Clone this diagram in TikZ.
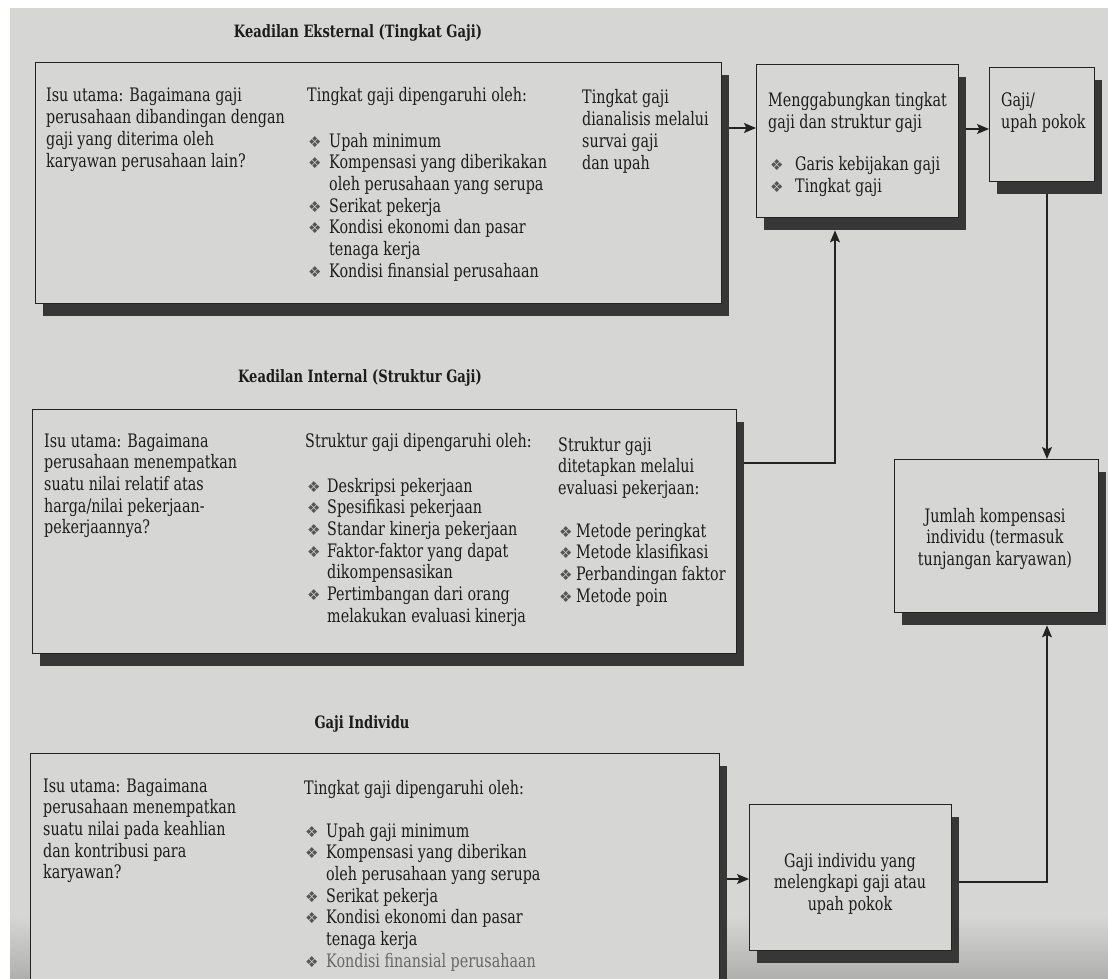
\documentclass[tikz,border=0pt]{standalone}
\usepackage{fontspec}
\setmainfont{DejaVu Serif}[FakeStretch=0.77]
\newfontfamily\bulfont{DejaVu Sans}
\usetikzlibrary{arrows.meta}

\definecolor{paper}{RGB}{214,214,212}
\definecolor{ink}{RGB}{28,28,28}
\definecolor{edge}{RGB}{35,35,35}
\definecolor{shadowc}{RGB}{55,55,55}
\definecolor{bulc}{RGB}{85,85,85}

% bullet lists: symbol box of width \bulw, continuation lines indented by \bulw
\newlength\bulw
\newcommand\bulsym{{\bulfont\fontsize{15}{15}\selectfont\color{bulc}❖}}
\newcommand\itm[1]{\makebox[\bulw][l]{\bulsym}#1}
\newcommand\cnt[1]{\hspace*{\bulw}#1}

\tikzset{
  panel/.style={draw=edge, line width=1.4pt, fill=paper, inner sep=0pt, anchor=north west},
  dropshade/.style={fill=shadowc, draw=none, inner sep=0pt, anchor=north west},
  txt/.style={inner sep=0pt, anchor=base west, text=ink, font=\fontsize{18.6}{21.7}\selectfont},
  ctxt/.style={inner sep=0pt, anchor=base, text=ink, font=\fontsize{18.6}{21.7}\selectfont},
  head/.style={inner sep=0pt, anchor=base, text=ink, font=\bfseries\fontsize{17}{20}\selectfont},
  arr/.style={draw=edge, line width=1.1pt, -{Stealth[length=12pt,width=10pt,inset=2.5pt]}},
}

% panel with its drop shadow: name, left, top, right, bottom
\newcommand\panel[5]{%
  \node[dropshade, minimum width={#4-#2}, minimum height={#5-#3}] (#1-sh) at ({#2+8},{#3+13}) {};
  \node[panel, minimum width={#4-#2}, minimum height={#5-#3}] (#1) at (#2,#3) {};
}

\begin{document}
\begin{tikzpicture}[x=1pt,y=-1pt]
\useasboundingbox (0,0) rectangle (1108,979);
\clip (0,0) rectangle (1108,979);
\fill[paper] (0,0) rectangle (1108,979);
\shade[top color=paper, bottom color=paper!82!black] (0,915) rectangle (1108,979);
\fill[white] (0,0) rectangle (1108,8);
\fill[white] (0,0) rectangle (10,979);

% ---------- section titles ----------
\node[head] (t-ext) at (358,38) {Keadilan Eksternal (Tingkat Gaji)};
\node[head] (t-int) at (360,382) {Keadilan Internal (Struktur Gaji)};
\node[head] (t-ind) at (362,728) {Gaji Individu};

% ---------- panels ----------
\panel{ext}{35}{62}{721}{303}
\panel{comb}{756}{64}{958}{217}
\panel{pokok}{989}{67}{1094}{181}
\panel{int}{32}{409}{736}{653}
\panel{jml}{894}{459}{1098}{612}
\panel{ind}{30}{753}{719}{1000}
\panel{gij}{749}{804}{951}{950}

% ---------- external equity ----------
\node[txt] (ext-q) at (46,102) {\parbox[t]{260pt}{Isu utama: Bagaimana gaji\\perusahaan dibandingan dengan\\gaji yang diterima oleh\\karyawan perusahaan lain?}};
\node[txt] (ext-h) at (307,102) {Tingkat gaji dipengaruhi oleh:};
\node[txt] (ext-l) at (308,147) {\setlength\bulw{21pt}\parbox[t]{260pt}{%
  \itm{Upah minimum}\\
  \itm{Kompensasi yang diberikakan}\\
  \cnt{oleh perusahaan yang serupa}\\
  \itm{Serikat pekerja}\\
  \itm{Kondisi ekonomi dan pasar}\\
  \cnt{tenaga kerja}\\
  \itm{Kondisi finansial perusahaan}}};
\node[txt] (ext-s) at (582,104) {\parbox[t]{140pt}{Tingkat gaji\\dianalisis melalui\\survai gaji\\dan upah}};

% ---------- combining ----------
\node[txt] (comb-t) at (768,107) {\parbox[t]{190pt}{Menggabungkan tingkat\\gaji dan struktur gaji}};
\node[txt] (comb-l) at (770,171) {\setlength\bulw{25pt}\parbox[t]{190pt}{%
  \itm{Garis kebijakan gaji}\\
  \itm{Tingkat gaji}}};
\node[txt] (pokok-t) at (1001,107) {\parbox[t]{95pt}{Gaji/\\upah pokok}};

% ---------- internal equity ----------
\node[txt] (int-q) at (44,447) {\parbox[t]{250pt}{Isu utama: Bagaimana\\perusahaan menempatkan\\suatu nilai relatif atas\\harga/nilai pekerjaan-\\pekerjaannya?}};
\node[txt] (int-h) at (305,447) {Struktur gaji dipengaruhi oleh:};
\node[txt] (int-l) at (307,492) {\setlength\bulw{20pt}\parbox[t]{250pt}{%
  \itm{Deskripsi pekerjaan}\\
  \itm{Spesifikasi pekerjaan}\\
  \itm{Standar kinerja pekerjaan}\\
  \itm{Faktor-faktor yang dapat}\\
  \cnt{dikompensasikan}\\
  \itm{Pertimbangan dari orang}\\
  \cnt{melakukan evaluasi kinerja}}};
\node[txt] (int-s) at (558,451) {\parbox[t]{170pt}{Struktur gaji\\ditetapkan melalui\\evaluasi pekerjaan:}};
\node[txt] (int-m) at (559,537) {\setlength\bulw{17pt}\parbox[t]{170pt}{%
  \itm{Metode peringkat}\\
  \itm{Metode klasifikasi}\\
  \itm{Perbandingan faktor}\\
  \itm{Metode poin}}};

% ---------- total compensation ----------
\node[ctxt] (jml-t) at (995,522) {\parbox[t]{200pt}{\centering Jumlah kompensasi\\individu (termasuk\\tunjangan karyawan)}};

% ---------- individual pay ----------
\node[txt] (ind-q) at (43,792) {\parbox[t]{250pt}{Isu utama: Bagaimana\\perusahaan menempatkan\\suatu nilai pada keahlian\\dan kontribusi para\\karyawan?}};
\node[txt] (ind-h) at (304,794) {Tingkat gaji dipengaruhi oleh:};
\node[txt] (ind-l) at (305,837) {\setlength\bulw{21pt}\parbox[t]{260pt}{%
  \itm{Upah gaji minimum}\\
  \itm{Kompensasi yang diberikan}\\
  \cnt{oleh perusahaan yang serupa}\\
  \itm{Serikat pekerja}\\
  \itm{Kondisi ekonomi dan pasar}\\
  \cnt{tenaga kerja}\\
  {\color{ink!60!paper}\itm{Kondisi finansial perusahaan}}}};
\node[ctxt] (gij-t) at (850,867) {\parbox[t]{200pt}{\centering Gaji individu yang\\melengkapi gaji atau\\upah pokok}};

% ---------- connectors ----------
\coordinate (yA) at (0,128);
\coordinate (yB) at (0,129);
\coordinate (yI) at (0,463);
\coordinate (yG) at (0,879);
\coordinate (yH) at (0,882);
\coordinate (xV) at (835,0);
\coordinate (xR) at (1047,0);

\draw[arr] (ext-sh.east |- yA) -- (comb.west |- yA);
\draw[arr] (comb-sh.east |- yB) -- (pokok.west |- yB);
\draw[arr] (pokok-sh.south -| xR) -- (jml.north -| xR);
\draw[arr] (int-sh.east |- yI) -| (comb-sh.south -| xV);
\draw[arr] (ind-sh.east |- yG) -- (gij.west |- yG);
\draw[arr] (gij-sh.east |- yH) -| (jml-sh.south -| xR);
\end{tikzpicture}
\end{document}
